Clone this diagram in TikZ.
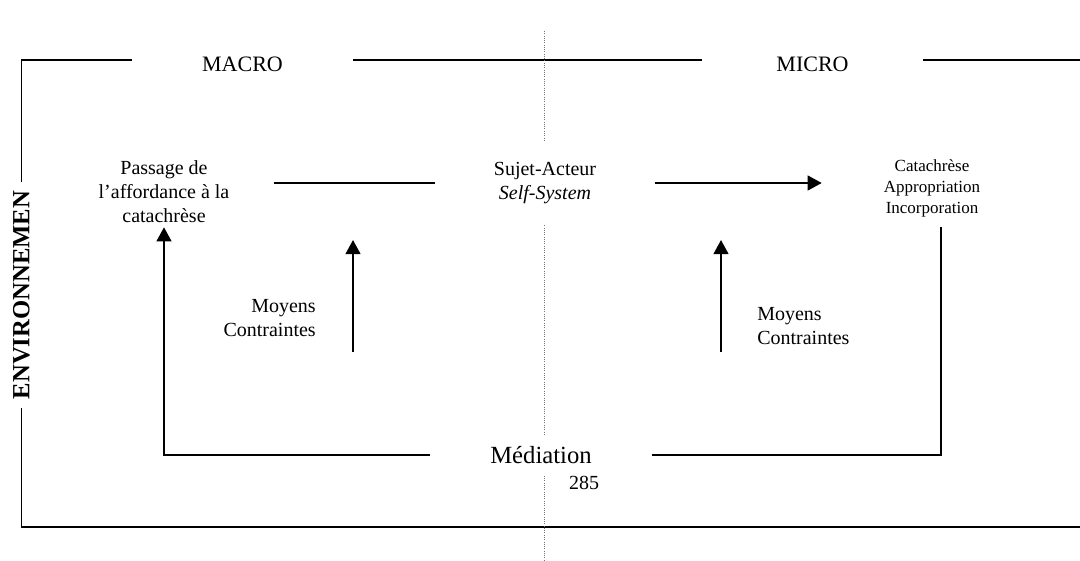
\documentclass[tikz,border=0pt]{standalone}
\usepackage{fontspec}
\setmainfont{Liberation Serif}
\usetikzlibrary{arrows.meta}
\newcommand{\axisx}{544}
\newcommand{\gapw}{165pt}

\tikzset{
  frame/.style={line width=1pt},
  conn/.style={line width=1.6pt},
  arr/.style={conn, -{Triangle[width=11pt,length=10.5pt]}},
  midline/.style={densely dotted, line width=0.7pt, black!55},
  lbl/.style={font=\fontsize{15}{18}\selectfont, inner sep=0pt, align=center},
  title/.style={lbl, font=\fontsize{16.5}{20}\selectfont, minimum width=165.75pt},
}

\begin{document}
\begin{tikzpicture}[x=0.75pt, y=-0.75pt]
\useasboundingbox (0,0) rectangle (1080,560);

        % frame round the diagram
        \coordinate (topL) at (21.5,60);
        \coordinate (botL) at (21.5,527);
        \coordinate (botR) at (1080,527);
        \coordinate (topR) at (1080,60);

        \node[title] (macro) at (242.5,64) {MACRO};
        \node[title] (micro) at (812.5,64) {MICRO};
        \node[rotate=90, inner sep=0pt, minimum width=169.5pt,
              font=\fontsize{18.5}{22}\selectfont\bfseries] (env) at (21.5,295) {ENVIRONNEMEN};

        \draw[frame] (macro.west |- topL) -- (topL) -- (env.east);
        \draw[frame] (env.west) -- (botL) -- (botR);
        \draw[frame] (macro.east |- topL) -- (micro.west |- topL);
        \draw[frame] (micro.east |- topL) -- (topR);

        % boxes
        \node[lbl, minimum width=\gapw, minimum height=52.5pt] (passage) at (164,192)
            {Passage de\\l'affordance à la\\catachrèse};
        \node[lbl, minimum width=164pt, minimum height=63pt] (sujet) at (545,183)
            {Sujet-Acteur\\\textit{Self-System}};
        \node[lbl, minimum width=\gapw, minimum height=58.5pt,
              font=\fontsize{12.75}{15.75}\selectfont] (catach) at (932,188)
            {Catachrèse\\Appropriation\\Incorporation};
        \node[lbl, minimum width=166.5pt, minimum height=30.75pt,
              font=\fontsize{18.5}{22}\selectfont] (mediation) at (541,455) {Médiation};
        \node[lbl] (page) at (584,483) {285};

        \node[lbl, anchor=east, align=right] (moyL) at (316,318) {Moyens\\Contraintes};
        \node[lbl, anchor=west, align=left] (moyR) at (757,326) {Moyens\\Contraintes};

        % dotted axis
        \coordinate (axtop) at (\axisx,31);
        \coordinate (axbot) at (\axisx,560);
        \draw[midline] (axtop) -- (axtop |- sujet.north);
        \draw[midline] (axtop |- sujet.south) -- (axtop |- mediation.north);
        \draw[midline] (axtop |- mediation.south) -- (axbot);

        % connectors
        \draw[conn] (sujet.west) -- (sujet.west -| passage.east);
        \draw[arr] (sujet.east) -- (sujet.east -| catach.west);
        \draw[arr] (mediation.west) -| (passage.south);
        \draw[conn] (mediation.east) -| ([xshift=6.75pt]catach.south);

        \coordinate (mL0) at (353,352);
        \coordinate (mL1) at (353,240);
        \coordinate (mR0) at (721,352);
        \coordinate (mR1) at (721,240);
        \draw[arr] (mL0) -- (mL1);
        \draw[arr] (mR0) -- (mR1);

\end{tikzpicture}
\end{document}
